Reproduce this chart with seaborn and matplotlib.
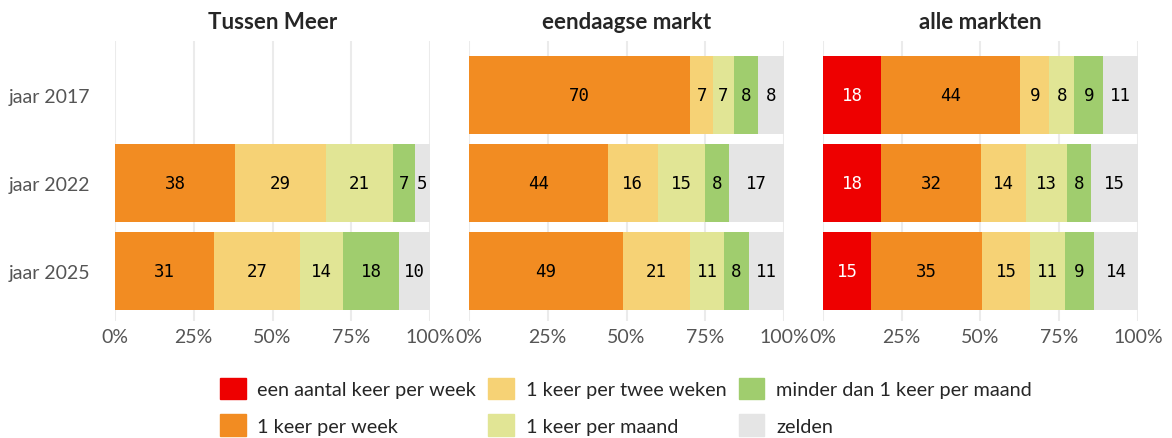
import numpy as np
import pandas as pd
import matplotlib.pyplot as plt
import seaborn as sns

panels = ["Tussen Meer", "eendaagse markt", "alle markten"]
years = ["jaar 2017", "jaar 2022", "jaar 2025"]
categories = ["een aantal keer per week", "1 keer per week", "1 keer per twee weken",
              "1 keer per maand", "minder dan 1 keer per maand", "zelden"]
colors = ["#EE0000", "#F28C22", "#F6D275", "#E1E595", "#A0CD6E", "#E5E5E5"]

# percentages per year, one list per category (nan = no data)
nan = np.nan
tussen_meer = {
    "een aantal keer per week": [nan, 0, 0],
    "1 keer per week": [nan, 38.2, 31.4],
    "1 keer per twee weken": [nan, 28.7, 27.4],
    "1 keer per maand": [nan, 21.3, 13.7],
    "minder dan 1 keer per maand": [nan, 7.0, 17.6],
    "zelden": [nan, 4.8, 9.9],
}
eendaagse = {
    "een aantal keer per week": [0, 0, 0],
    "1 keer per week": [70.2, 44.0, 48.9],
    "1 keer per twee weken": [7.3, 16.0, 21.3],
    "1 keer per maand": [6.6, 15.0, 10.8],
    "minder dan 1 keer per maand": [7.6, 7.6, 7.9],
    "zelden": [8.3, 17.4, 11.1],
}
alle = {
    "een aantal keer per week": [18.4, 18.4, 15.2],
    "1 keer per week": [44.1, 31.8, 35.3],
    "1 keer per twee weken": [9.4, 14.2, 15.2],
    "1 keer per maand": [7.9, 13.1, 11.1],
    "minder dan 1 keer per maand": [9.2, 7.6, 9.2],
    "zelden": [11.0, 14.9, 14.0],
}
panel_data = [tussen_meer, eendaagse, alle]

sns.set_style("white")
plt.rcParams["font.family"] = ["Lato", "DejaVu Sans"]

fig = plt.figure(figsize=(11.72, 4.39), dpi=100)
lefts = [115, 469, 823]
for i, (name, data) in enumerate(zip(panels, panel_data)):
    ax = fig.add_axes([lefts[i] / 1172, 1 - 322 / 439, 315 / 1172, 280 / 439])
    df = pd.DataFrame(data, index=years)
    cum = df.cumsum(axis=1)
    # draw cumulative bars from last to first so they stack
    for cat, col in reversed(list(zip(categories, colors))):
        sub = pd.DataFrame({"year": years, "val": cum[cat].values})
        sns.barplot(data=sub, x="val", y="year", orient="h", color=col,
                    width=0.89, saturation=1, linewidth=0, ax=ax, order=years)
    for j, yr in enumerate(years):
        for k, cat in enumerate(categories):
            v = df.loc[yr, cat]
            if np.isnan(v) or v <= 0:
                continue
            xc = cum.loc[yr, cat] - v / 2
            ax.text(xc, j, f"{v:.0f}", ha="center", va="center", fontsize=12.5,
                    family="DejaVu Sans Mono",
                    color="white" if cat == categories[0] else "black")
    ax.set_xlim(0, 100)
    ax.set_ylim(2.57, -0.61)
    ax.set_xticks([0, 25, 50, 75, 100])
    ax.set_xticklabels(["0%", "25%", "50%", "75%", "100%"], fontsize=14, color="#555555")
    ax.grid(axis="x", color="#EBEBEB", linewidth=1.5)
    ax.set_axisbelow(True)
    ax.set_xlabel("")
    ax.set_ylabel("")
    ax.tick_params(axis="both", length=0, pad=5)
    if i == 0:
        ax.set_yticks(range(3))
        ax.set_yticklabels(years, fontsize=14, color="#555555")
        ax.tick_params(axis="y", pad=18)
    else:
        ax.set_yticks([])
    sns.despine(ax=ax, left=True, bottom=True)
    ax.set_title(name, fontsize=16, fontweight="bold", pad=9)

handles = [plt.Rectangle((0, 0), 1, 1, color=c) for c in colors]
fig.legend(handles, categories, ncol=3, loc="lower center", bbox_to_anchor=(0.534, -0.004),
           frameon=False, handlelength=1.3, handleheight=1.3,
           columnspacing=0.6, handletextpad=0.6, labelspacing=0.75,
           borderaxespad=0.1, borderpad=0.1,
           prop={"family": "Lato", "size": 14.3})

fig.savefig("out.png", dpi=100)
